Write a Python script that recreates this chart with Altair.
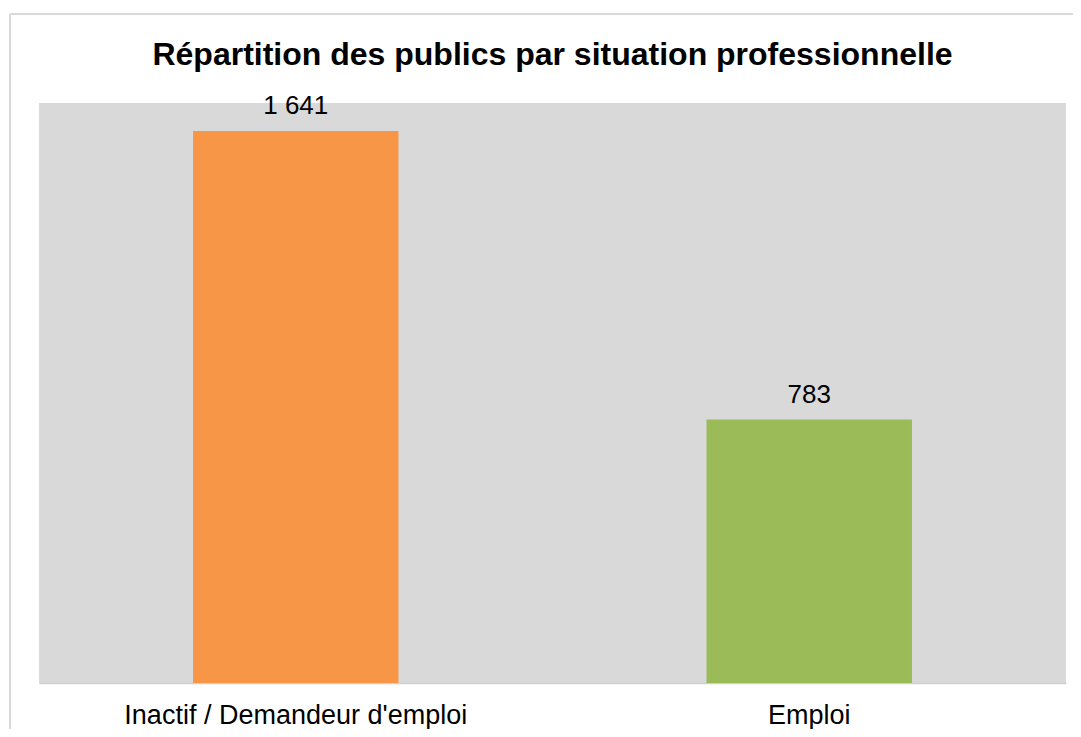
import altair as alt
import pandas as pd

categories = ["Inactif / Demandeur d'emploi", "Emploi"]
values = [1641, 783]
colors = ["#F79646", "#9BBB59"]
labels = [f"{v:,}".replace(",", " ") for v in values]
title_text = ["Répartition des publics par situation professionnelle"]

df = pd.DataFrame({"cat": categories, "val": values, "label": labels, "color": colors})
df_title = pd.DataFrame({"t": title_text})

FONT = "Liberation Sans"
W, H = 1027, 580

x = alt.X("cat:N", sort=categories, title=None,
          scale=alt.Scale(paddingInner=0, paddingOuter=0),
          axis=alt.Axis(labelAngle=0, labelFontSize=27, labelColor="#000000", labelFont=FONT,
                        labelPadding=19, ticks=False, domainColor="#D0D0D0", domainWidth=1.5,
                        labelLimit=600))
y = alt.Y("val:Q", title=None, scale=alt.Scale(domain=[0, 1724], nice=False), axis=None)

bars = alt.Chart(df).mark_bar(width=alt.RelativeBandSize(0.4)).encode(
    x=x, y=y, color=alt.Color("color:N", scale=None)
)
text = alt.Chart(df).mark_text(fontSize=26, font=FONT, color="#000000", baseline="alphabetic", dy=-17).encode(
    x=alt.X("cat:N", sort=categories), y="val:Q", text="label:N"
)
title = alt.Chart(df_title).mark_text(fontSize=32, font=FONT, fontWeight="bold", color="#000000",
                                      baseline="alphabetic", align="center").encode(
    x=alt.value(W / 2), y=alt.value(-38), text="t:N"
)

border_top = alt.Chart(df_title).mark_rule(color="#D9D9D9", strokeWidth=2).encode(
    x=alt.value(-29), x2=alt.value(1100), y=alt.value(-89)
)
border_left = alt.Chart(df_title).mark_rule(color="#D9D9D9", strokeWidth=2).encode(
    x=alt.value(-29), y=alt.value(-89), y2=alt.value(700)
)

chart = alt.layer(bars, text, title, border_top, border_left).properties(
    width=W, height=H,
    autosize=alt.AutoSizeParams(type="none"),
    padding={"left": 31, "top": 95, "right": 7, "bottom": 46},
    background="#FFFFFF",
).configure_view(fill="#D9D9D9", stroke=None)

chart.save("out.html", embed_options={"renderer": "svg", "actions": False})
